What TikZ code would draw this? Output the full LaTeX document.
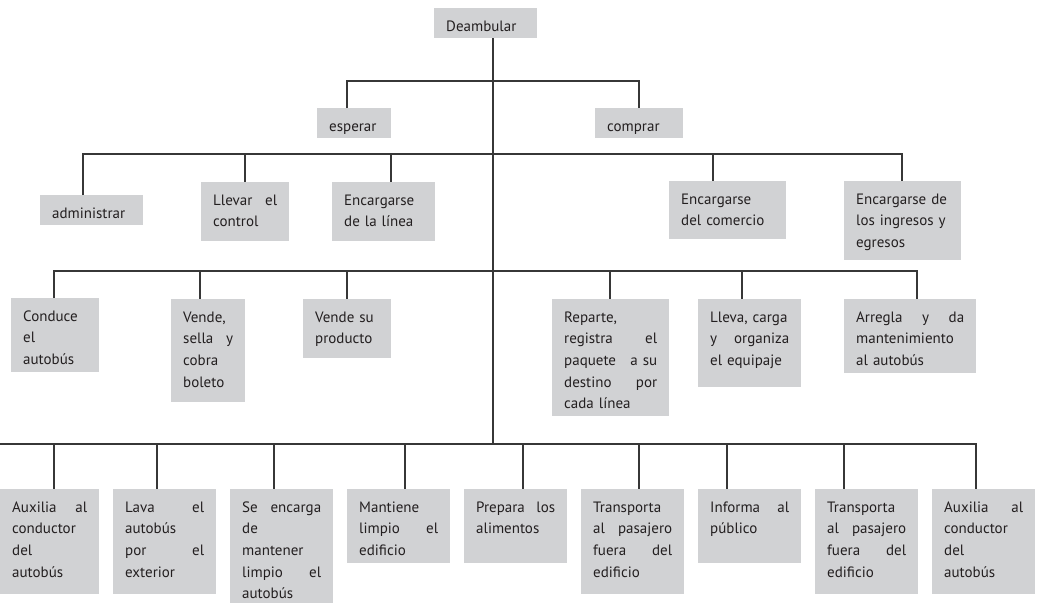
\documentclass[tikz,border=0pt]{standalone}
\usepackage{fontspec}
\setmainfont{PT Sans}
\definecolor{boxgray}{RGB}{209,210,212}
\definecolor{ink}{RGB}{35,31,32}
\definecolor{linec}{RGB}{55,55,55}
\newcommand\bx[6]{%
  \pgfmathsetmacro\bxtw{#4-24}%
  \pgfmathsetmacro\bxtd{#5-23}%
  \node[bx,text width=\bxtw pt,text depth=\bxtd pt] (#1) at (#2,#3) {#6};}
\begin{document}
\begin{tikzpicture}[x=1pt,y=-1pt,
  bx/.style={anchor=north west, fill=boxgray, text=ink, inner xsep=12pt, inner ysep=0pt,
    text height=23pt, align=left, font=\fontsize{15}{21.6}\selectfont},
  conn/.style={draw=linec, line width=1.2pt}]
\useasboundingbox (0,0) rectangle (1042,603);
% level 0-1
\bx{dea}{434}{8}{103}{30}{Deambular}
\bx{esp}{317}{108}{74}{30}{esperar}
\bx{com}{595}{108}{88}{30}{comprar}
% level 2
\bx{adm}{40}{195}{103}{30}{administrar}
\bx{lle}{201}{182}{88}{59}{Llevar\hfill el\\control}
\bx{enl}{332}{182}{103}{59}{Encargarse\\de la línea}
\bx{enc}{669}{181}{117}{58}{Encargarse\\del comercio}
\bx{eni}{844}{181}{117}{79}{Encargarse de\\los ingresos y\\egresos}
% level 3
\bx{con}{11}{298}{88}{74}{Conduce\\el\\autobús}
\bx{ven}{171}{299}{74}{103}{Vende,\\sella\hfill y\\cobra\\boleto}
\bx{vsp}{303}{299}{88}{59}{Vende su\\producto}
\bx{rep}{552}{299}{117}{117}{Reparte,\\registra\hfill el\\paquete\hfill a su\\destino\hfill por\\cada línea}
\bx{lca}{698}{299}{103}{88}{Lleva, carga\\y\hfill organiza\\el equipaje}
\bx{arr}{844}{299}{132}{74}{Arregla\hfill y\hfill da\\mantenimiento\\al autobús}
% level 4
\bx{au1}{0}{489}{99}{105}{Auxilia\hfill al\\conductor\\del\\autobús}
\bx{lav}{113}{489}{103}{105}{Lava\hfill el\\autobús\\por\hfill el\\exterior}
\bx{sec}{230}{489}{103}{114}{Se\hfill encarga\\de\\mantener\\limpio\hfill el\\autobús}
\bx{mat}{347}{489}{103}{74}{Mantiene\\limpio\hfill el\\edificio}
\bx{pre}{464}{489}{103}{74}{Prepara\hfill los\\alimentos}
\bx{tr1}{581}{489}{103}{105}{Transporta\\al\hfill pasajero\\fuera\hfill del\\edificio}
\bx{inf}{698}{489}{103}{74}{Informa\hfill al\\público}
\bx{tr2}{815}{489}{103}{105}{Transporta\\al\hfill pasajero\\fuera\hfill del\\edificio}
\bx{au2}{932}{489}{103}{105}{Auxilia\hfill al\\conductor\\del\\autobús}
% trunk
\coordinate (tr) at (493,444);
\draw[conn] (dea.south -| tr) -- (tr);
% level 1 bar
\coordinate (a1) at (347,81);
\coordinate (a2) at (639,81);
\draw[conn] (a1 |- esp.north) -- (a1) -- (a2) -- (a2 |- com.north);
% level 2 bar
\coordinate (c1) at (83,154);
\coordinate (c2) at (245,154);
\coordinate (c3) at (391,154);
\coordinate (c4) at (713,154);
\coordinate (c5) at (902,154);
\draw[conn] (c1 |- adm.north) -- (c1) -- (c5) -- (c5 |- eni.north);
\draw[conn] (c2) -- (c2 |- lle.north);
\draw[conn] (c3) -- (c3 |- enl.north);
\draw[conn] (c4) -- (c4 |- enc.north);
% level 3 bar
\coordinate (e1) at (54,271);
\coordinate (e2) at (200,271);
\coordinate (e3) at (347,271);
\coordinate (e4) at (610,271);
\coordinate (e5) at (742,271);
\coordinate (e6) at (917,271);
\draw[conn] (e1 |- con.north) -- (e1) -- (e6) -- (e6 |- arr.north);
\draw[conn] (e2) -- (e2 |- ven.north);
\draw[conn] (e3) -- (e3 |- vsp.north);
\draw[conn] (e4) -- (e4 |- rep.north);
\draw[conn] (e5) -- (e5 |- lca.north);
% level 4 bar
\coordinate (f0) at (0,444);
\coordinate (f1) at (54,444);
\coordinate (f2) at (157,444);
\coordinate (f3) at (274,444);
\coordinate (f4) at (405,444);
\coordinate (f5) at (523,444);
\coordinate (f6) at (639,444);
\coordinate (f7) at (727,444);
\coordinate (f8) at (844,444);
\coordinate (f9) at (976,444);
\draw[conn] (f0) -- (f9) -- (f9 |- au2.north);
\draw[conn] (f1) -- (f1 |- au1.north);
\draw[conn] (f2) -- (f2 |- lav.north);
\draw[conn] (f3) -- (f3 |- sec.north);
\draw[conn] (f4) -- (f4 |- mat.north);
\draw[conn] (f5) -- (f5 |- pre.north);
\draw[conn] (f6) -- (f6 |- tr1.north);
\draw[conn] (f7) -- (f7 |- inf.north);
\draw[conn] (f8) -- (f8 |- tr2.north);
\end{tikzpicture}
\end{document}
